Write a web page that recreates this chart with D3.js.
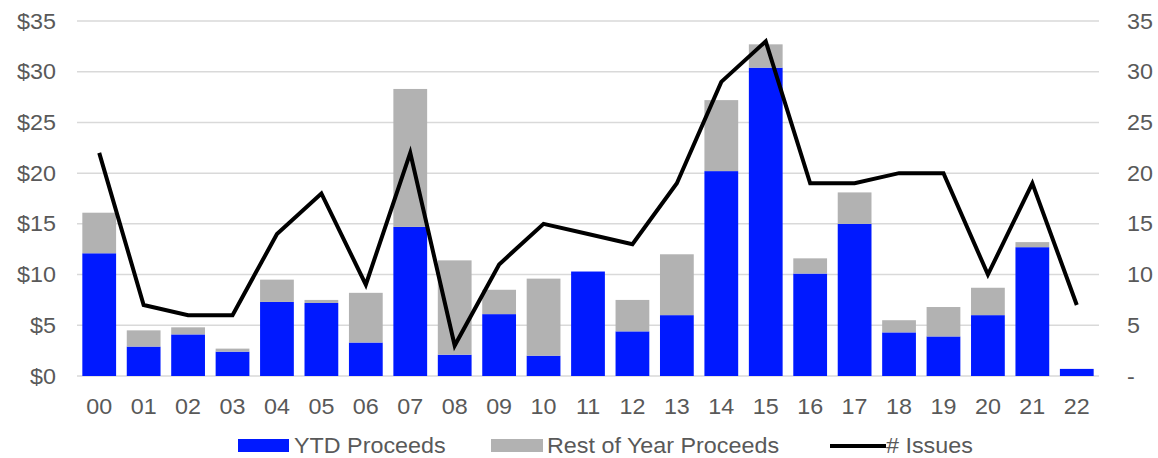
<!DOCTYPE html>
<html>
<head>
<meta charset="utf-8">
<script src="https://cdn.jsdelivr.net/npm/d3@7"></script>
<style>
    body { margin: 0; background: #fff; }
    svg { display: block; }
</style>
</head>
<body>
<svg></svg>
<script>
let years = ['00', '01', '02', '03', '04', '05', '06', '07', '08', '09', '10', '11',
    '12', '13', '14', '15', '16', '17', '18', '19', '20', '21', '22'];
let ytd = [12.1, 2.9, 4.1, 2.4, 7.3, 7.2, 3.3, 14.7, 2.1, 6.1, 2.0, 10.3,
    4.4, 6.0, 20.2, 30.4, 10.1, 15.0, 4.3, 3.9, 6.0, 12.7, 0.7];
let restOfYear = [4.0, 1.6, 0.7, 0.3, 2.2, 0.3, 4.9, 13.6, 9.3, 2.4, 7.6, 0,
    3.1, 6.0, 7.0, 2.3, 1.5, 3.1, 1.2, 2.9, 2.7, 0.5, 0];
let issues = [22, 7, 6, 6, 14, 18, 9, 22, 3, 11, 15, 14,
    13, 19, 29, 33, 19, 19, 20, 20, 10, 19, 7];
let ticks = [0, 5, 10, 15, 20, 25, 30, 35];

window.onload = () => {
    let width = 1158;
    let height = 458;
    let left = 77, right = 1099, top = 21, bottom = 376;
    let textColor = '#595959';
    let blue = '#0019ff';
    let gray = '#b2b2b2';

    let svg = d3.select('svg')
        .attr('width', width)
        .attr('height', height)
        .attr('font-family', '"Liberation Sans", Arial, sans-serif')
        .attr('font-size', 22);

    let x = d3.scaleBand()
        .domain(years)
        .range([left, right])
        .paddingInner(0.24)
        .paddingOuter(0.12);

    let y = d3.scaleLinear().domain([0, 35]).range([bottom, top]);
    let y2 = d3.scaleLinear().domain([0, 35]).range([bottom, top]);

    // gridlines
    svg.append('g')
        .selectAll('line')
        .data(ticks)
        .enter()
        .append('line')
        .attr('x1', left)
        .attr('x2', right)
        .attr('y1', d => y(d))
        .attr('y2', d => y(d))
        .attr('stroke', '#d9d9d9')
        .attr('stroke-width', 1.5);

    // stacked bars
    let rows = years.map((yr, i) => ({ year: yr, ytd: ytd[i], rest: restOfYear[i] }));
    let stack = d3.stack().keys(['ytd', 'rest'])(rows);
    let colors = { ytd: blue, rest: gray };

    svg.append('g')
        .selectAll('g')
        .data(stack)
        .enter()
        .append('g')
        .attr('fill', s => colors[s.key])
        .selectAll('rect')
        .data(s => s)
        .enter()
        .append('rect')
        .attr('x', d => x(d.data.year))
        .attr('width', x.bandwidth())
        .attr('y', d => y(d[1]))
        .attr('height', d => y(d[0]) - y(d[1]));

    // issues line
    let line = d3.line()
        .x((d, i) => x(years[i]) + x.bandwidth() / 2)
        .y(d => y2(d));

    svg.append('path')
        .datum(issues)
        .attr('fill', 'none')
        .attr('stroke', '#000')
        .attr('stroke-width', 4)
        .attr('stroke-linejoin', 'miter')
        .attr('d', line);

    // left axis
    svg.append('g')
        .selectAll('text')
        .data(ticks)
        .enter()
        .append('text')
        .attr('class', 'lbl')
        .attr('x', 56)
        .attr('y', d => y(d) + 7.5)
        .attr('text-anchor', 'end')
        .attr('fill', textColor)
        .text(d => '$' + d);

    // right axis
    svg.append('g')
        .selectAll('text')
        .data(ticks)
        .enter()
        .append('text')
        .attr('class', 'lbl')
        .attr('x', 1127)
        .attr('y', d => y2(d) + 7.5)
        .attr('fill', textColor)
        .text(d => d === 0 ? '-' : d);

    // x axis labels
    svg.append('g')
        .selectAll('text')
        .data(years)
        .enter()
        .append('text')
        .attr('class', 'lbl')
        .attr('x', d => x(d) + x.bandwidth() / 2)
        .attr('y', 413.5)
        .attr('text-anchor', 'middle')
        .attr('fill', textColor)
        .text(d => d);

    // legend
    let legend = svg.append('g');
    legend.append('rect').attr('x', 238).attr('y', 439).attr('width', 51).attr('height', 13).attr('fill', blue);
    legend.append('text').attr('class', 'lbl').attr('x', 294).attr('y', 453).attr('fill', textColor).text('YTD Proceeds');
    legend.append('rect').attr('x', 491).attr('y', 439).attr('width', 52).attr('height', 13).attr('fill', gray);
    legend.append('text').attr('class', 'lbl').attr('x', 547).attr('y', 453).attr('fill', textColor).text('Rest of Year Proceeds');
    legend.append('line').attr('x1', 830).attr('x2', 886).attr('y1', 446).attr('y2', 446)
        .attr('stroke', '#000').attr('stroke-width', 4);
    legend.append('text').attr('class', 'lbl').attr('x', 886).attr('y', 453).attr('fill', textColor).text('# Issues');

    // the source rendering is a little wider than the font
    svg.selectAll('.lbl').each(function () {
        let len = this.getComputedTextLength();
        d3.select(this)
            .attr('textLength', len * 1.06)
            .attr('lengthAdjust', 'spacingAndGlyphs');
    });
};
</script>
</body>
</html>
